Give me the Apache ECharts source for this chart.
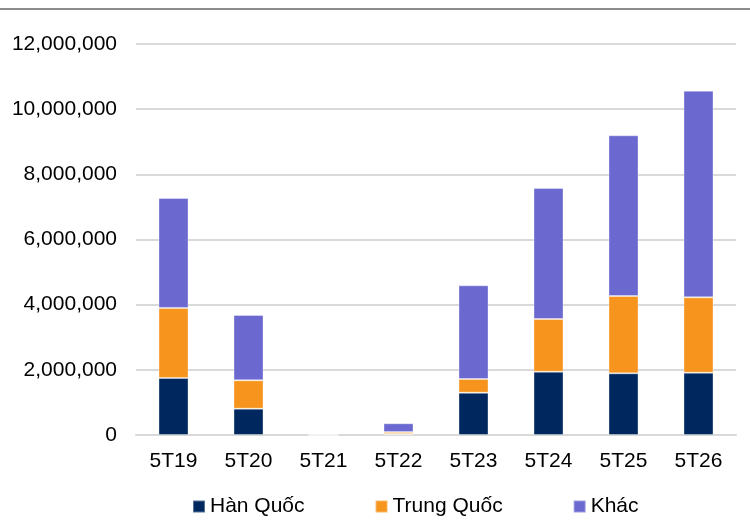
<!DOCTYPE html>
<html>
<head>
<meta charset="utf-8">
<script src="https://cdn.jsdelivr.net/npm/echarts@6/dist/echarts.min.js"></script>
<style>html,body{margin:0;padding:0;background:#fff}#c{width:750px;height:522px}</style>
</head>
<body>
<div id="c"></div>
<script>
const categories = ['5T19','5T20','5T21','5T22','5T23','5T24','5T25','5T26'];
const hanQuoc   = [1750000, 807000, 0, 30000, 1298000, 1943000, 1893000, 1912000];
const trungQuoc = [2150000, 872000, 0, 60000, 421000, 1617000, 2373000, 2314000];
const khac      = [3375000, 2004000, 0, 270000, 2875000, 4020000, 4932000, 6341000];
const seriesNames = ['Hàn Quốc','Trung Quốc','Khác'];
const colors = ['#00285F','#F7941D','#6B69CF'];

const chart = echarts.init(document.getElementById('c'));
const font = 'Liberation Sans, Arial, sans-serif';
const mk = (name, data, color) => ({
  name, type: 'bar', stack: 'total', data, barWidth: '40%',
  itemStyle: { color, borderColor: 'rgba(255,255,255,0.35)', borderWidth: 1 }
});
chart.setOption({
  animation: false,
  backgroundColor: '#fff',
  grid: { left: 136, right: 14, top: 44, bottom: 87 },
  graphic: [{ type: 'line', shape: { x1: 0, y1: 9, x2: 750, y2: 9 }, style: { stroke: '#8c8c8c', lineWidth: 2 } }],
  legend: {
    left: 192, top: 496, padding: 0, itemGap: 70, itemWidth: 12, itemHeight: 12, icon: 'rect',
    textStyle: { fontFamily: font, fontSize: 21, color: '#000' },
    data: seriesNames
  },
  xAxis: {
    type: 'category', data: categories,
    axisLine: { lineStyle: { color: '#d9d9d9', width: 2 } },
    axisTick: { show: false },
    axisLabel: { fontFamily: font, fontSize: 21, color: '#000', margin: 16 }
  },
  yAxis: {
    type: 'value', min: 0, max: 12000000, interval: 2000000,
    axisLine: { show: false }, axisTick: { show: false },
    splitLine: { lineStyle: { color: '#d9d9d9', width: 2 } },
    axisLabel: { fontFamily: font, fontSize: 21, color: '#000', margin: 19,
      formatter: v => v.toLocaleString('en-US') }
  },
  series: [
    mk(seriesNames[0], hanQuoc, colors[0]),
    mk(seriesNames[1], trungQuoc, colors[1]),
    mk(seriesNames[2], khac, colors[2])
  ]
});
</script>
</body>
</html>
